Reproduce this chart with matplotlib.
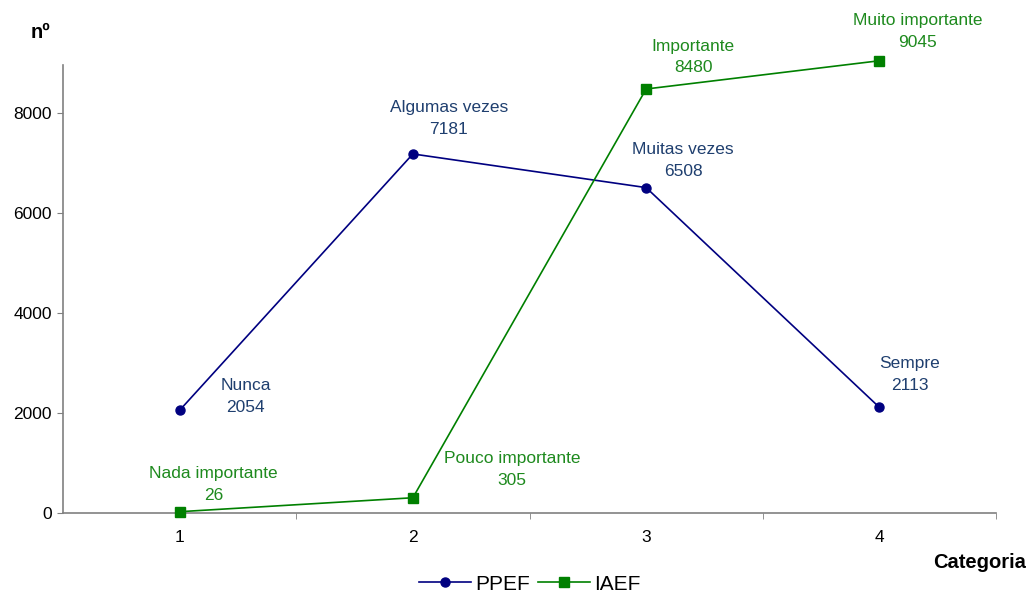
import matplotlib
matplotlib.use("Agg")
import matplotlib.pyplot as plt
from matplotlib.ticker import FixedLocator

plt.rcParams['font.family'] = ['Liberation Sans', 'DejaVu Sans']

categories = [1, 2, 3, 4]
ppef = [2054, 7181, 6508, 2113]
iaef = [26, 305, 8480, 9045]
ppef_labels = ["Nunca", "Algumas vezes", "Muitas vezes", "Sempre"]
iaef_labels = ["Nada importante", "Pouco importante", "Importante", "Muito importante"]
yticks = [0, 2000, 4000, 6000, 8000]

blue = "#000080"
blue_txt = "#1F3F6F"
green = "#008000"
green_txt = "#1E8A1E"

W, H = 1031, 596
fig = plt.figure(figsize=(W / 100, H / 100), dpi=100)
ax = fig.add_axes([63 / W, (H - 513) / H, (996 - 63) / W, (513 - 65) / H])

ax.plot(categories, ppef, color=blue, lw=1.2, marker='o', ms=6.5, label="PPEF", clip_on=False, zorder=3)
ax.plot(categories, iaef, color=green, lw=1.2, marker='s', ms=6.5, label="IAEF", clip_on=False, zorder=3)

ax.set_xlim(0.5, 4.5)
ax.set_ylim(0, 8960)
ax.set_yticks(yticks)
ax.set_xticks(categories)
ax.xaxis.set_minor_locator(FixedLocator([1.5, 2.5, 3.5, 4.5]))
ax.tick_params(axis='x', which='major', length=0, pad=12, labelsize=12.5)
ax.tick_params(axis='x', which='minor', length=4, color='#808080', direction='out')
ax.tick_params(axis='y', length=4, color='#808080', labelsize=12.5, pad=4)
for s in ['top', 'right']:
    ax.spines[s].set_visible(False)
for s in ['left', 'bottom']:
    ax.spines[s].set_color('#808080')
    ax.spines[s].set_linewidth(1.2)

ppef_off = [(66, 13.5), (36, 35.5), (37, 27), (30, 33)]
iaef_off = [(34, 27), (99, 28), (47, 32), (38, 29)]
for x, y, lab, off in zip(categories, ppef, ppef_labels, ppef_off):
    ax.annotate(f"{lab}\n{y}", (x, y), xytext=off, textcoords='offset pixels',
                ha='center', va='center', color=blue_txt, fontsize=12.5,
                linespacing=1.55, annotation_clip=False)
for x, y, lab, off in zip(categories, iaef, iaef_labels, iaef_off):
    ax.annotate(f"{lab}\n{y}", (x, y), xytext=off, textcoords='offset pixels',
                ha='center', va='center', color=green_txt, fontsize=12.5,
                linespacing=1.55, annotation_clip=False)

fig.text(40 / W, 1 - 32 / H, "nº", fontsize=14.5, fontweight='bold', ha='center', va='center')
fig.text(980 / W, 1 - 562 / H, "Categoria", fontsize=14.5, fontweight='bold', ha='center', va='center')

fig.legend(loc='center', bbox_to_anchor=(530 / W, 1 - 584 / H), ncol=2, frameon=False,
           fontsize=15, handlelength=2.5, columnspacing=0.4, handletextpad=0.2)

fig.savefig("out.png", dpi=100)
